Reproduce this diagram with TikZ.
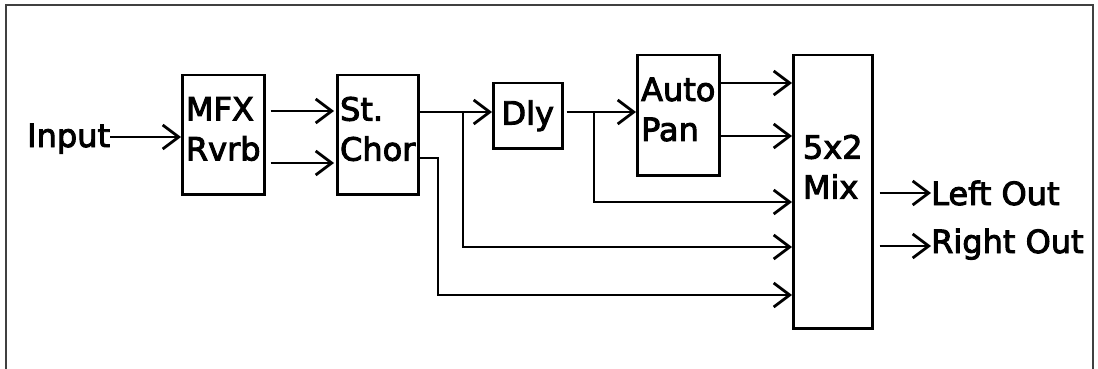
\documentclass[tikz,border=0pt]{standalone}
\usepackage{fontspec}
\setmainfont{DejaVu Sans}[FakeBold=3]
\usetikzlibrary{arrows.meta,positioning}

\begin{document}
\begin{tikzpicture}[
  x=1pt,y=-1pt,
  font=\fontsize{32}{40}\selectfont,
  blk/.style={draw,line width=2.5pt,anchor=north west,inner sep=0pt,align=left},
  twoline/.style={text depth=12pt},
  txt/.style={inner sep=0pt},
  ar/.style={-{Straight Barb[length=16pt,width=24pt]},line width=2.8pt},
  frm/.style={draw=black!75,line width=1.5pt}
]
\useasboundingbox (0,0) rectangle (1098,369);
\draw[frm] (6,369) -- (6,5) -- (1093,5) -- (1093,369);

% blocks
\node[blk,twoline,minimum width=82,minimum height=119] (mfx) at (181,74) {MFX\\Rvrb};
\node[blk,twoline,minimum width=81,minimum height=119] (chor) at (336,74) {St.\\Chor};
\node[blk,minimum width=69,minimum height=65] (dly) at (492,82) {Dly};
\node[blk,twoline,minimum width=82,minimum height=120] (pan) at (636,54) {Auto\\Pan};
\node[blk,text depth=50pt,minimum width=79,minimum height=273] (mix) at (792,54) {5x2\\Mix};

% in and out
\node[txt,anchor=base west] (inp) at (27,147) {Input};
\node[txt,anchor=base west] (lout) at (931,205) {Left Out};
\node[txt,anchor=base west] (rout) at (931,253) {Right Out};

% taps
\coordinate (tapa) at (463,112);
\coordinate (tapb) at (438,158);
\coordinate (tapc) at (594,112);

\draw[ar] (inp.east |- 0,137) -- (mfx.west |- 0,137);
\draw[ar,shorten <=5pt,shorten >=2pt] (mfx.east |- 0,111) -- (chor.west |- 0,111);
\draw[ar,shorten <=5pt,shorten >=2pt] (mfx.east |- 0,163) -- (chor.west |- 0,163);
\draw[ar] (chor.east |- 0,112) -- (dly.west |- 0,112);
\draw[ar] (tapa) -- (tapa |- 0,247) -- (mix.west |- 0,247);
\draw[ar] (chor.east |- tapb) -- (tapb) -- (tapb |- 0,295) -- (mix.west |- 0,295);
\draw[ar,shorten <=3pt] (dly.east |- 0,112) -- (pan.west |- 0,112);
\draw[ar] (tapc) -- (tapc |- 0,202) -- (mix.west |- 0,202);
\draw[ar] (pan.east |- 0,83) -- (mix.west |- 0,83);
\draw[ar] (pan.east |- 0,136) -- (mix.west |- 0,136);
\draw[ar,shorten <=6pt] (mix.east |- 0,193) -- (lout.west |- 0,193);
\draw[ar,shorten <=6pt] (mix.east |- 0,246) -- (rout.west |- 0,246);
\end{tikzpicture}
\end{document}
